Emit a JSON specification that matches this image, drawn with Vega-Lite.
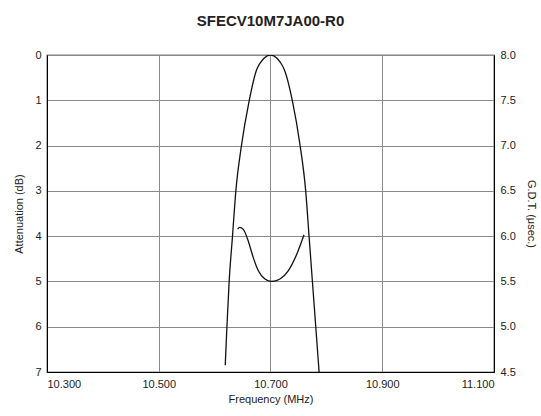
{
  "$schema": "https://vega.github.io/schema/vega-lite/v6.json",
  "autosize": {"type": "none"},
  "width": 447,
  "height": 317,
  "padding": {"left": 47, "top": 55, "right": 47, "bottom": 44},
  "background": "white",
  "title": {"text": "SFECV10M7JA00-R0", "fontSize": 15, "fontWeight": "bold", "font": "Liberation Sans", "color": "#222", "anchor": "middle", "offset": 20},
  "config": {
    "font": "Liberation Sans",
    "view": {"stroke": "#000", "strokeWidth": 1.2},
    "axis": {"labelFont": "Liberation Sans", "titleFont": "Liberation Sans", "labelFontSize": 11, "titleFontSize": 11, "titleFontWeight": "normal", "labelColor": "#222", "titleColor": "#222", "domainColor": "#000", "gridColor": "#8a8a8a", "gridOpacity": 1, "gridWidth": 1, "tickSize": 0}
  },
  "datasets": {
    "atten": [
      {"freq": 10.619, "atten": 6.85},
      {"freq": 10.622, "atten": 6.0},
      {"freq": 10.626, "atten": 5.0},
      {"freq": 10.632, "atten": 4.0},
      {"freq": 10.638, "atten": 3.0},
      {"freq": 10.648, "atten": 2.0},
      {"freq": 10.662, "atten": 1.0},
      {"freq": 10.675, "atten": 0.33},
      {"freq": 10.682, "atten": 0.17},
      {"freq": 10.694, "atten": 0.02},
      {"freq": 10.700, "atten": 0.0},
      {"freq": 10.706, "atten": 0.02},
      {"freq": 10.718, "atten": 0.17},
      {"freq": 10.725, "atten": 0.33},
      {"freq": 10.739, "atten": 1.0},
      {"freq": 10.753, "atten": 2.0},
      {"freq": 10.763, "atten": 3.0},
      {"freq": 10.769, "atten": 4.0},
      {"freq": 10.775, "atten": 5.0},
      {"freq": 10.781, "atten": 6.0},
      {"freq": 10.787, "atten": 7.0}
    ],
    "gdt": [
      {"freq": 10.641, "gdt": 6.077},
      {"freq": 10.645, "gdt": 6.096},
      {"freq": 10.651, "gdt": 6.077},
      {"freq": 10.660, "gdt": 5.95},
      {"freq": 10.669, "gdt": 5.766},
      {"freq": 10.678, "gdt": 5.62},
      {"freq": 10.690, "gdt": 5.527},
      {"freq": 10.702, "gdt": 5.5},
      {"freq": 10.717, "gdt": 5.527},
      {"freq": 10.732, "gdt": 5.62},
      {"freq": 10.747, "gdt": 5.80},
      {"freq": 10.760, "gdt": 6.015}
    ]
  },
  "layer": [
    {
      "data": {"name": "atten"},
      "mark": {"type": "line", "color": "#111", "strokeWidth": 1.3, "interpolate": "monotone", "clip": true},
      "encoding": {
        "x": {"field": "freq", "type": "quantitative", "scale": {"domain": [10.3, 11.1], "nice": false, "zero": false},
              "axis": {"values": [10.3, 10.5, 10.7, 10.9, 11.1], "format": ".3f", "title": "Frequency (MHz)", "labelPadding": 6, "titlePadding": 4, "grid": true}},
        "y": {"field": "atten", "type": "quantitative", "scale": {"domain": [0, 7], "reverse": true, "nice": false, "zero": false},
              "axis": {"orient": "left", "values": [0, 1, 2, 3, 4, 5, 6, 7], "title": "Attenuation (dB)", "labelPadding": 6, "titlePadding": 10, "grid": true}}
      }
    },
    {
      "data": {"name": "gdt"},
      "mark": {"type": "line", "color": "#111", "strokeWidth": 1.3, "interpolate": "monotone"},
      "encoding": {
        "x": {"field": "freq", "type": "quantitative"},
        "y": {"field": "gdt", "type": "quantitative", "scale": {"domain": [4.5, 8.0], "nice": false, "zero": false},
              "axis": {"orient": "right", "values": [4.5, 5.0, 5.5, 6.0, 6.5, 7.0, 7.5, 8.0], "format": ".1f", "title": "G.D.T. (μsec.)", "labelPadding": 6, "titlePadding": 10, "grid": false}}
      }
    }
  ],
  "resolve": {"scale": {"y": "independent"}}
}
